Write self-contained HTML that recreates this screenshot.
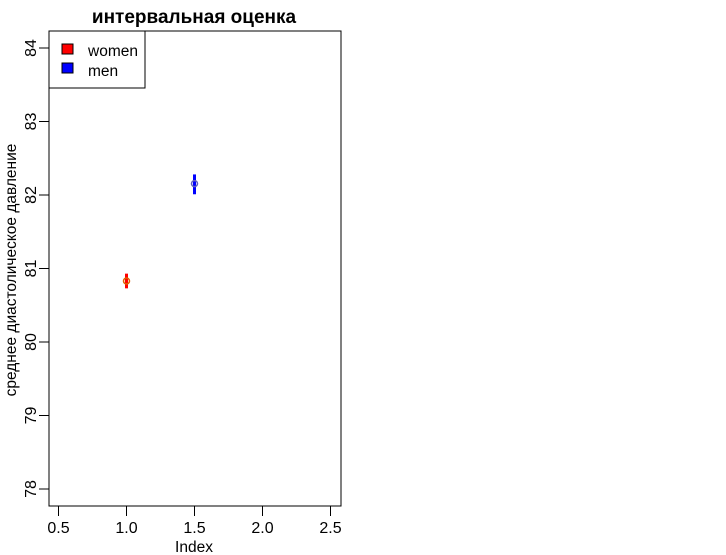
<!DOCTYPE html>
<html><head><meta charset="utf-8"><style>body{margin:0;background:#fff}svg{display:block;font-family:"Liberation Sans",Arial,sans-serif}</style></head>
<body>
<svg width="726" height="555" id="c">
<text x="194" y="23" text-anchor="middle" font-size="19" font-weight="bold">интервальная оценка</text>
<rect x="49" y="31" width="292" height="475" fill="none" stroke="#000" stroke-width="1"/>
<g id="xt"></g>
<g id="yt"></g>
<text x="194" y="552" text-anchor="middle" font-size="15.5">Index</text>
<text transform="translate(16,270) rotate(-90)" text-anchor="middle" font-size="15.5">среднее диастолическое давление</text>
<g id="marks"></g>
<g>
<rect x="49" y="31" width="96" height="57" fill="#fff" stroke="#000"/>
<rect x="62" y="44" width="11" height="10" fill="#f00" stroke="#000"/>
<rect x="62" y="63" width="11" height="10" fill="#00f" stroke="#000"/>
<text x="88" y="56" font-size="15.5">women</text>
<text x="88" y="76" font-size="15.5">men</text>
</g>
</svg>
<script>
const categories=["women","men"];
const xIndex=[1.0,1.5];
const means=[80.83,82.155];
const lowers=[80.73,82.01];
const uppers=[80.93,82.28];
const colors=["#f00","#00f"];
const pointColors=["#e06000","#6060c0"];
const xTicks=[0.5,1.0,1.5,2.0,2.5];
const xTickLabels=["0.5","1.0","1.5","2.0","2.5"];
const yTicks=[78,79,80,81,82,83,84];
const X=v=>58.5+(v-0.5)*136;
const Y=v=>489-(v-78)*73.5;
const NS="http://www.w3.org/2000/svg";
function mk(t,a,p){const e=document.createElementNS(NS,t);for(const k in a)e.setAttribute(k,a[k]);p.appendChild(e);return e;}
const xt=document.getElementById('xt'),yt=document.getElementById('yt'),mg=document.getElementById('marks');
xTicks.forEach((v,i)=>{
 const l=mk('line',{x1:X(v),x2:X(v),y1:506,y2:516,stroke:'#000'},xt);
 
 
 const t=mk('text',{x:X(v),y:533,'text-anchor':'middle','font-size':16},xt);t.textContent=xTickLabels[i];
 
 
});
yTicks.forEach(v=>{
 const l=mk('line',{x1:39,x2:49,y1:Y(v),y2:Y(v),stroke:'#000'},yt);
 
 
 const t=mk('text',{transform:`translate(36,${Y(v)}) rotate(-90)`,'text-anchor':'middle','font-size':16},yt);t.textContent=String(v);
 
 
});
categories.forEach((c,i)=>{
 const e=mk('line',{x1:X(xIndex[i]),x2:X(xIndex[i]),y1:Y(lowers[i]),y2:Y(uppers[i]),stroke:colors[i],'stroke-width':3},mg);
 
 
 const p=mk('circle',{cx:X(xIndex[i]),cy:Y(means[i]),r:3,fill:'none',stroke:pointColors[i],'stroke-width':1.5},mg);
 
 
});
</script>
</body></html>
